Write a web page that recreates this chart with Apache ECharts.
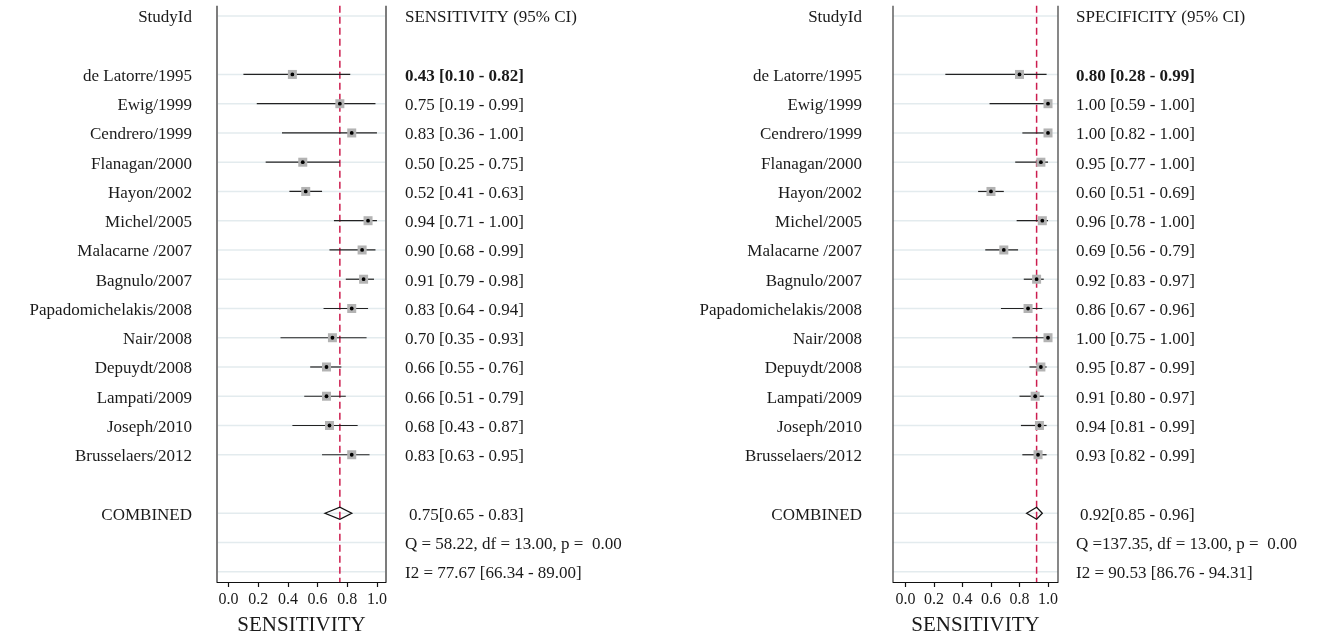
<!DOCTYPE html>
<html>
<head>
<meta charset="utf-8">
<script src="https://cdn.jsdelivr.net/npm/echarts@6/dist/echarts.min.js"></script>
<style>
  html, body { margin: 0; padding: 0; background: #ffffff; }
  #chart { width: 1323px; height: 641px; }
</style>
</head>
<body>
<div id="chart"></div>
<script>
// ---- study data --------------------------------------------------------
const studies = [
  'de Latorre/1995', 'Ewig/1999', 'Cendrero/1999', 'Flanagan/2000', 'Hayon/2002',
  'Michel/2005', 'Malacarne /2007', 'Bagnulo/2007', 'Papadomichelakis/2008',
  'Nair/2008', 'Depuydt/2008', 'Lampati/2009', 'Joseph/2010', 'Brusselaers/2012'
];

const sensEst = [0.43, 0.75, 0.83, 0.50, 0.52, 0.94, 0.90, 0.91, 0.83, 0.70, 0.66, 0.66, 0.68, 0.83];
const sensLo  = [0.10, 0.19, 0.36, 0.25, 0.41, 0.71, 0.68, 0.79, 0.64, 0.35, 0.55, 0.51, 0.43, 0.63];
const sensHi  = [0.82, 0.99, 1.00, 0.75, 0.63, 1.00, 0.99, 0.98, 0.94, 0.93, 0.76, 0.79, 0.87, 0.95];

const specEst = [0.80, 1.00, 1.00, 0.95, 0.60, 0.96, 0.69, 0.92, 0.86, 1.00, 0.95, 0.91, 0.94, 0.93];
const specLo  = [0.28, 0.59, 0.82, 0.77, 0.51, 0.78, 0.56, 0.83, 0.67, 0.75, 0.87, 0.80, 0.81, 0.82];
const specHi  = [0.99, 1.00, 1.00, 1.00, 0.69, 1.00, 0.79, 0.97, 0.96, 1.00, 0.99, 0.97, 0.99, 0.99];

// pooled estimate [point, lower, upper]
const sensPooled = [0.75, 0.65, 0.83];
const specPooled = [0.92, 0.85, 0.96];

// heterogeneity: [Q, df, p] and I2 [value, lower, upper]
const sensQ  = [58.22, 13.00, 0.00];
const sensI2 = [77.67, 66.34, 89.00];
const specQ  = [137.35, 13.00, 0.00];
const specI2 = [90.53, 86.76, 94.31];

const xTicks = [0, 0.2, 0.4, 0.6, 0.8, 1.0];
const studyHeader = 'StudyId';
const pooledLabel = 'COMBINED';
const axisTitle = 'SENSITIVITY';
const sensHeader = 'SENSITIVITY (95% CI)';
const specHeader = 'SPECIFICITY (95% CI)';

// ---- layout -------------------------------------------------------------
const FONT = '"Liberation Serif", "Times New Roman", serif';
const TEXT_COLOR = '#1a1a1a';
const ROW_HEADER = 0, ROW_FIRST = 2, ROW_POOLED = 17, ROW_Q = 18, ROW_I2 = 19;
const TEXT_DROP = 2; // text sits slightly below its guide line

const f2 = v => v.toFixed(2);
const pad6 = v => f2(v).padStart(6, ' ');

const panels = [
  { left: 217, width: 169, xMin: -0.078, xMax: 1.061, labelGap: 25, colGap: 19,
    est: sensEst, lo: sensLo, hi: sensHi, pooled: sensPooled, q: sensQ, i2: sensI2,
    header: sensHeader, border: '#7c7c7c', borderW: 2 },
  { left: 893, width: 165, xMin: -0.087, xMax: 1.070, labelGap: 31, colGap: 18,
    est: specEst, lo: specLo, hi: specHi, pooled: specPooled, q: specQ, i2: specI2,
    header: specHeader, border: '#555555', borderW: 1.4 }
];

const grids = [], xAxes = [], yAxes = [], series = [];

panels.forEach((p, k) => {
  grids.push({ left: p.left, width: p.width, top: 5.7, height: 582.3 });
  xAxes.push({
    gridIndex: k, type: 'value', min: p.xMin, max: p.xMax,
    name: axisTitle, nameLocation: 'middle', nameGap: 33,
    nameTextStyle: { fontFamily: FONT, fontSize: 21, color: TEXT_COLOR },
    axisLine: { show: true, onZero: false, lineStyle: { color: '#111', width: 1.2 } },
    axisTick: { show: true, customValues: xTicks, length: 5, inside: false,
                lineStyle: { color: '#111', width: 1.2 } },
    axisLabel: { customValues: xTicks, margin: 10, fontFamily: FONT, fontSize: 16,
                 color: TEXT_COLOR, formatter: v => v.toFixed(1) },
    splitLine: { show: false }
  });
  yAxes.push({ gridIndex: k, type: 'value', inverse: true, min: -0.35, max: 19.35, show: false });

  // rows that carry a light guide line
  const guideRows = [ROW_HEADER];
  p.est.forEach((_, i) => guideRows.push(ROW_FIRST + i));
  guideRows.push(ROW_POOLED, ROW_Q, ROW_I2);

  // frame: guide lines, side borders, dashed line at the pooled estimate
  series.push({
    type: 'custom', xAxisIndex: k, yAxisIndex: k, silent: true, clip: false, z: 1,
    data: [[0, 0]],
    renderItem: (params, api) => {
      const cs = params.coordSys;
      const children = guideRows.map(r => {
        const y = api.coord([0, r])[1];
        return { type: 'line', shape: { x1: cs.x, y1: y, x2: cs.x + cs.width, y2: y },
                 style: { stroke: '#e3ebee', lineWidth: 1.6 } };
      });
      children.push({ type: 'line', shape: { x1: cs.x, y1: cs.y, x2: cs.x, y2: cs.y + cs.height },
                      style: { stroke: p.border, lineWidth: p.borderW } });
      children.push({ type: 'line', shape: { x1: cs.x + cs.width, y1: cs.y, x2: cs.x + cs.width, y2: cs.y + cs.height },
                      style: { stroke: p.border, lineWidth: p.borderW } });
      const rx = api.coord([p.pooled[0], 0])[0];
      children.push({ type: 'line', z2: 5, shape: { x1: rx, y1: cs.y, x2: rx, y2: cs.y + cs.height },
                      style: { stroke: '#cc1d4f', lineWidth: 1.5, lineDash: [7, 4] } });
      return { type: 'group', children };
    }
  });

  // study confidence intervals and point estimates
  series.push({
    type: 'custom', xAxisIndex: k, yAxisIndex: k, silent: true, clip: false, z: 3,
    data: p.est.map((e, i) => [e, ROW_FIRST + i, p.lo[i], p.hi[i]]),
    renderItem: (params, api) => {
      const c = api.coord([api.value(0), api.value(1)]);
      const lo = api.coord([api.value(2), api.value(1)]);
      const hi = api.coord([api.value(3), api.value(1)]);
      const s = 9;
      return { type: 'group', children: [
        { type: 'line', shape: { x1: lo[0], y1: c[1], x2: hi[0], y2: c[1] },
          style: { stroke: '#222', lineWidth: 1.2 } },
        { type: 'rect', shape: { x: c[0] - s / 2, y: c[1] - s / 2, width: s, height: s },
          style: { fill: '#b3b3b3' } },
        { type: 'circle', shape: { cx: c[0], cy: c[1], r: 1.9 }, style: { fill: '#000' } }
      ] };
    }
  });

  // pooled diamond
  series.push({
    type: 'custom', xAxisIndex: k, yAxisIndex: k, silent: true, clip: false, z: 4,
    data: [[p.pooled[0], ROW_POOLED, p.pooled[1], p.pooled[2]]],
    renderItem: (params, api) => {
      const c = api.coord([api.value(0), api.value(1)]);
      const lo = api.coord([api.value(2), api.value(1)]);
      const hi = api.coord([api.value(3), api.value(1)]);
      const h = 6;
      return { type: 'polygon',
        shape: { points: [[lo[0], c[1]], [c[0], c[1] - h], [hi[0], c[1]], [c[0], c[1] + h]] },
        style: { fill: 'rgba(255,255,255,0)', stroke: '#111', lineWidth: 1.3 } };
    }
  });

  // text columns: study names on the left, estimates on the right
  const texts = [];
  texts.push({ row: ROW_HEADER, side: 'L', text: studyHeader });
  texts.push({ row: ROW_HEADER, side: 'R', text: p.header });
  studies.forEach((name, i) => {
    texts.push({ row: ROW_FIRST + i, side: 'L', text: name });
    texts.push({ row: ROW_FIRST + i, side: 'R', bold: i === 0,
                 text: f2(p.est[i]) + ' [' + f2(p.lo[i]) + ' - ' + f2(p.hi[i]) + ']' });
  });
  texts.push({ row: ROW_POOLED, side: 'L', text: pooledLabel });
  texts.push({ row: ROW_POOLED, side: 'R', indent: 4,
               text: f2(p.pooled[0]) + '[' + f2(p.pooled[1]) + ' - ' + f2(p.pooled[2]) + ']' });
  texts.push({ row: ROW_Q, side: 'R',
               text: 'Q =' + pad6(p.q[0]) + ', df =' + pad6(p.q[1]) + ', p =' + pad6(p.q[2]) });
  texts.push({ row: ROW_I2, side: 'R',
               text: 'I2 = ' + f2(p.i2[0]) + ' [' + f2(p.i2[1]) + ' - ' + f2(p.i2[2]) + ']' });

  series.push({
    type: 'custom', xAxisIndex: k, yAxisIndex: k, silent: true, clip: false, z: 5,
    data: texts.map(t => [0, t.row]),
    renderItem: (params, api) => {
      const t = texts[params.dataIndex];
      const cs = params.coordSys;
      const y = api.coord([0, api.value(1)])[1] + TEXT_DROP;
      const x = t.side === 'L' ? cs.x - p.labelGap : cs.x + cs.width + p.colGap + (t.indent || 0);
      return { type: 'text', x: x, y: y,
        style: { text: t.text, fill: TEXT_COLOR, font: (t.bold ? 'bold ' : '') + '17px ' + FONT,
                 align: t.side === 'L' ? 'right' : 'left', verticalAlign: 'middle' } };
    }
  });
});

const chart = echarts.init(document.getElementById('chart'), null, { renderer: 'canvas' });
chart.setOption({
  animation: false,
  backgroundColor: '#ffffff',
  grid: grids,
  xAxis: xAxes,
  yAxis: yAxes,
  series: series
});
</script>
</body>
</html>
